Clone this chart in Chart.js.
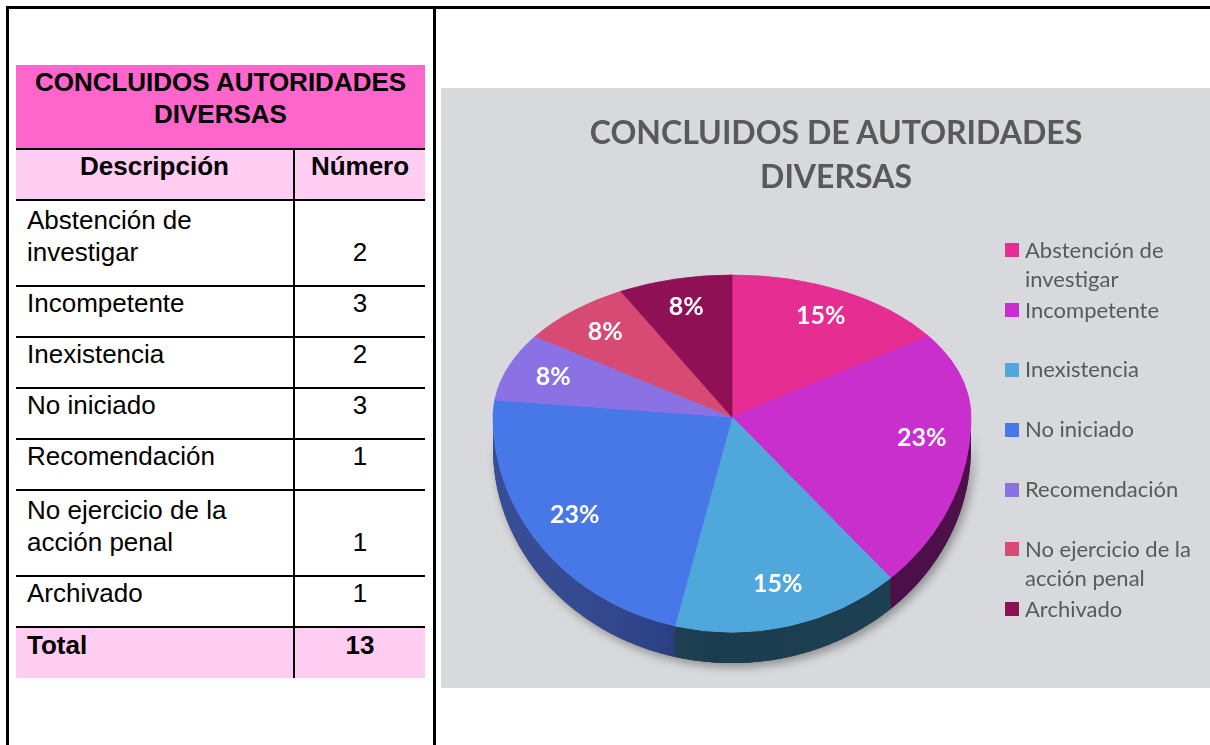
<!DOCTYPE html>
<html>
<head>
<meta charset="utf-8">
<script src="https://cdn.jsdelivr.net/npm/chart.js@4.4.1/dist/chart.umd.min.js"></script>
<style>
  html, body { margin:0; padding:0; background:#fff; width:1210px; height:745px; overflow:hidden; position:relative; }
  .ln { position:absolute; background:#000; }
  #tbl { position:absolute; left:16px; top:65px; width:409px; border-collapse:collapse; table-layout:fixed;
         font-family:"Liberation Sans", Arial, sans-serif; font-size:26px; line-height:32px; color:#000; }
  #tbl td { padding:0 0 17px 11px; vertical-align:bottom; }
  #tbl td.num { text-align:center; padding-left:0; border-left:2px solid #000; }
  #tbl tr.body td, #tbl tr.total td, #tbl tr.head td { border-top:2px solid #000; }
  #tbl tr.ttl td { background:#FF66CC; font-weight:bold; text-align:center; padding:0 0 18px 0; }
  #tbl tr.head td { background:#FFCCF2; font-weight:bold; text-align:center; padding-left:0; }
  #tbl tr.total td { background:#FFCCF2; font-weight:bold; }
  #chartbox { position:absolute; left:441px; top:88px; width:769px; height:600px; background:#D8D9DC; }
  #chartbox canvas { position:absolute; left:0; top:0; }
  #ctitle { position:absolute; left:536px; top:110px; width:600px; text-align:center; font-family:Lato, "Open Sans", sans-serif;
            font-weight:bold; font-size:32px; line-height:44px; color:#595959; }
  .lg { position:absolute; left:1005px; font-family:Lato, "Open Sans", sans-serif; font-size:22px; line-height:29.5px; color:#595959; }
  .lg .mk { position:absolute; left:0; top:8.5px; width:14px; height:14px; }
  .lg .tx { position:absolute; left:20px; top:0; width:182px; }
</style>
</head>
<body>
<div class="ln" style="left:6px;top:6px;width:1204px;height:3px;"></div>
<div class="ln" style="left:6px;top:6px;width:3px;height:739px;"></div>
<div class="ln" style="left:433px;top:6px;width:3px;height:739px;"></div>

<table id="tbl"></table>

<div id="chartbox"><canvas id="c" width="769" height="600"></canvas></div>
<div id="ctitle"></div>
<div id="legend"></div>

<script>
// ---- data ----
const tableTitle = ['CONCLUIDOS AUTORIDADES', 'DIVERSAS'];
const tableHeaders = ['Descripción', 'Número'];
const totalLabel = 'Total';
const chartTitle = ['CONCLUIDOS DE AUTORIDADES', 'DIVERSAS'];
const categories = ['Abstención de investigar', 'Incompetente', 'Inexistencia', 'No iniciado',
                    'Recomendación', 'No ejercicio de la acción penal', 'Archivado'];
const values = [2, 3, 2, 3, 1, 1, 1];

// ---- styles ----
const sliceColors = ['#E52D92', '#C92FCC', '#4FA7DC', '#4877E8', '#8A72E4', '#D64A74', '#901055'];
const sideColors  = ['#7A1448', '#52104F', '#1F4459', '#2B428F', '#463A7E', '#6E2540', '#4A0A2C'];
const rowHeights  = [86, 51, 50, 51, 51, 86, 51];

// ---- table ----
const tbl = document.getElementById('tbl');
let html = '<colgroup><col style="width:278px"><col style="width:131px"></colgroup>';
html += '<tr class="ttl" style="height:84px"><td colspan="2">' + tableTitle.join('<br>') + '</td></tr>';
html += '<tr class="head" style="height:51px"><td>' + tableHeaders[0] + '</td><td class="num">' + tableHeaders[1] + '</td></tr>';
categories.forEach((c, i) => {
  html += '<tr class="body" style="height:' + rowHeights[i] + 'px"><td>' + c + '</td><td class="num">' + values[i] + '</td></tr>';
});
const total = values.reduce((a, b) => a + b, 0);
html += '<tr class="total" style="height:51px"><td>' + totalLabel + '</td><td class="num">' + total + '</td></tr>';
tbl.innerHTML = html;

// ---- chart title & legend ----
document.getElementById('ctitle').innerHTML = chartTitle.join('<br>');
const lg = document.getElementById('legend');
categories.forEach((c, i) => {
  const d = document.createElement('div');
  d.className = 'lg';
  d.style.top = (234.7 + i * 59.83) + 'px';
  d.innerHTML = '<div class="mk" style="background:' + sliceColors[i] + '"></div><div class="tx">' + c + '</div>';
  lg.appendChild(d);
});

// ---- 3D pie plugin ----
const KT = 0.594, KB = 0.90, DEPTH = 31, LABEL_F = 0.8;
const pie3d = {
  id: 'pie3d',
  beforeDatasetsDraw(chart) {
    const ctx = chart.ctx;
    const arcs = chart.getDatasetMeta(0).data;
    const cx = arcs[0].x, cy = arcs[0].y, R = arcs[0].outerRadius;
    const rim = (a, dy) => [cx + R * Math.cos(a), cy + KB * R * Math.sin(a) + dy];
    const sidePath = (a1, a2) => {
      const N = 80;
      ctx.beginPath();
      for (let k = 0; k <= N; k++) { const p = rim(a1 + (a2 - a1) * k / N, 0); k ? ctx.lineTo(p[0], p[1]) : ctx.moveTo(p[0], p[1]); }
      for (let k = N; k >= 0; k--) { const p = rim(a1 + (a2 - a1) * k / N, DEPTH); ctx.lineTo(p[0], p[1]); }
      ctx.closePath();
    };
    // shadow under the whole side
    ctx.save();
    ctx.shadowColor = 'rgba(0,0,0,0.35)';
    ctx.shadowBlur = 10; ctx.shadowOffsetX = 3; ctx.shadowOffsetY = 4;
    sidePath(0, Math.PI);
    ctx.fillStyle = '#333';
    ctx.fill();
    ctx.restore();
    // side pieces
    arcs.forEach((arc, i) => {
      const a1 = Math.max(arc.startAngle, 0), a2 = Math.min(arc.endAngle, Math.PI);
      if (a2 <= a1) return;
      ctx.save();
      sidePath(a1, a2);
      ctx.fillStyle = sideColors[i];
      ctx.fill();
      const g = ctx.createLinearGradient(cx - R, 0, cx + R, 0);
      g.addColorStop(0, 'rgba(255,255,255,0.06)');
      g.addColorStop(0.45, 'rgba(0,0,0,0.12)');
      g.addColorStop(1, 'rgba(0,0,0,0.05)');
      ctx.fillStyle = g;
      ctx.fill();
      ctx.restore();
    });
    // top face: two halves with different vertical squeeze (perspective)
    [[0, cy, KT], [cy, chart.height - cy, KB]].forEach(([top, h, k]) => {
      ctx.save();
      ctx.beginPath();
      ctx.rect(0, top, chart.width, h);
      ctx.clip();
      ctx.translate(cx, cy);
      ctx.scale(1, k);
      ctx.translate(-cx, -cy);
      arcs.forEach(a => a.draw(ctx));
      ctx.restore();
    });
    return false;
  },
  afterDraw(chart) {
    const ctx = chart.ctx;
    const arcs = chart.getDatasetMeta(0).data;
    const vals = chart.data.datasets[0].data;
    const sum = vals.reduce((a, b) => a + b, 0);
    ctx.save();
    ctx.font = 'bold 25px Lato, "Open Sans", sans-serif';
    ctx.fillStyle = '#FFFFFF';
    ctx.textAlign = 'center';
    ctx.textBaseline = 'middle';
    arcs.forEach((arc, i) => {
      const mid = (arc.startAngle + arc.endAngle) / 2;
      const s = Math.sin(mid);
      const k = s < 0 ? KT : KB;
      const x = arc.x + Math.cos(mid) * arc.outerRadius * LABEL_F;
      const y = arc.y + s * arc.outerRadius * LABEL_F * k;
      ctx.fillText(Math.round(vals[i] / sum * 100) + '%', x, y);
    });
    ctx.restore();
  }
};

new Chart(document.getElementById('c'), {
  type: 'pie',
  data: {
    labels: categories,
    datasets: [{
      data: values,
      backgroundColor: sliceColors,
      borderColor: sliceColors,
      borderWidth: 1,
      radius: 239,
      hoverOffset: 0
    }]
  },
  options: {
    responsive: false,
    animation: false,
    events: [],
    layout: { padding: { left: 52, right: 239, top: 90, bottom: 32 } },
    plugins: { legend: { display: false }, tooltip: { enabled: false }, title: { display: false } }
  },
  plugins: [pie3d]
});
</script>
</body>
</html>
